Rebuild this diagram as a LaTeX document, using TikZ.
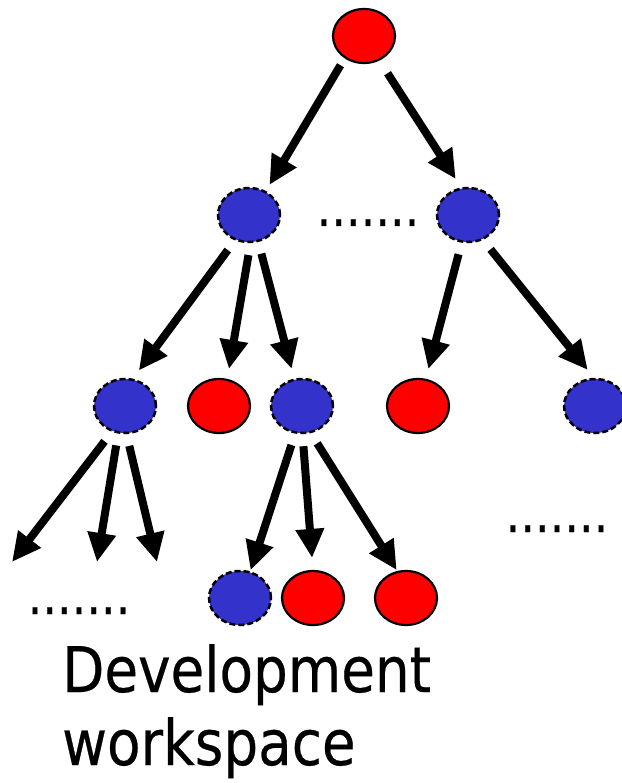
\documentclass[tikz,border=0pt]{standalone}
\usepackage{fontspec}
\usepackage{tikz}
\usetikzlibrary{shapes.geometric, arrows.meta}
\newfontfamily\labelfont[FakeStretch=0.87, FakeBold=0.4]{DejaVu Sans}
\definecolor{filered}{RGB}{255,0,0}
\definecolor{dirblue}{RGB}{51,51,204}

\begin{document}
\begin{tikzpicture}[x=1pt, y=-1pt,
	filenode/.style={ellipse, draw, line width=2.2pt, fill=filered, minimum width=62pt, minimum height=54pt, inner sep=0pt},
	dirnode/.style={filenode, fill=dirblue, line width=2.5pt, dash pattern=on 6pt off 3pt},
	arr/.style={line width=8pt, -{Triangle[length=29pt, width=27pt]}, shorten <=12pt, shorten >=10pt},
	dots/.style={font=\labelfont\fontsize{53}{60}\selectfont, inner sep=0pt, anchor=base}]
	\useasboundingbox (0,0) rectangle (621,783);

	% tree
	\node[filenode] (root) at (364,36)  {};
	\node[dirnode]  (b1)   at (249,215) {};
	\node[dirnode]  (b2)   at (468,215) {};
	\node[dirnode]  (c1)   at (125,406) {};
	\node[filenode] (c2)   at (219,406) {};
	\node[dirnode]  (c3)   at (302,406) {};
	\node[filenode] (c4)   at (418,406) {};
	\node[dirnode]  (c5)   at (595,406) {};
	\node[dirnode]  (d1)   at (240,598) {};
	\node[filenode] (d2)   at (313,598) {};
	\node[filenode] (d3)   at (406,598) {};

	\coordinate (e1) at (12,562);
	\coordinate (e2) at (97,562);
	\coordinate (e3) at (157,562);

	\draw[arr, shorten <=8pt, shorten >=7pt] (root.229) -- (b1.55);
	\draw[arr, shorten <=15pt] (root.302) -- (b2.104);
	\draw[arr] (b1.241) -- (c1.74);
	\draw[arr] (b1.273) -- (c2.73);
	\draw[arr] (b1.289) -- (c3.106);
	\draw[arr] (b2.257) -- (c4.74);
	\draw[arr] (b2.301) -- (c5.92);
	\draw[arr, shorten >=0pt] (c1.243) -- (e1);
	\draw[arr, shorten >=0pt] (c1.256) -- (e2);
	\draw[arr, shorten >=0pt] (c1.273) -- (e3);
	\draw[arr, shorten >=1pt] (c3.256) -- (d1.69);
	\draw[arr, shorten >=12pt] (c3.271) -- (d2.90);
	\draw[arr, shorten >=1pt] (c3.288) -- (d3.108);

	% dots and caption
	\node[dots] (dotsmid)   at (368,226) {.......};
	\node[dots] (dotsright) at (557,532) {.......};
	\node[dots] (dotsleft)  at (79,614)  {.......};
	\node[anchor=north west, align=left, inner sep=0pt,
		font=\labelfont\fontsize{63}{73}\selectfont] (caption) at (62,644) {Development\\workspace};
\end{tikzpicture}
\end{document}
